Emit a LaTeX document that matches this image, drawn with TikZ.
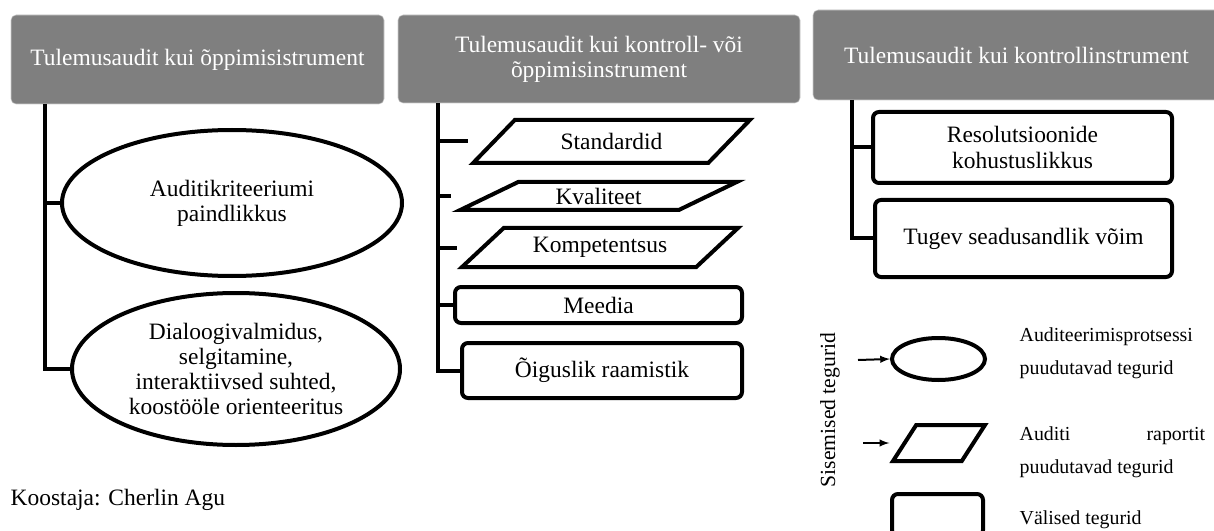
\documentclass[tikz,border=0pt]{standalone}
\usepackage{fontspec}
\setmainfont{Liberation Serif}
\usetikzlibrary{positioning,shapes.geometric}
\definecolor{headgray}{RGB}{127,127,127}
\tikzset{
  head/.style={rectangle,rounded corners=3.75pt,fill=headgray,draw=gray!40,thin,text=white,align=center,inner sep=0pt},
  oval/.style={ellipse,draw,line width=3pt,align=center,inner sep=0pt},
  slant/.style={trapezium,trapezium stretches=true,draw,line width=3pt,inner sep=0pt},
  fbox/.style={rectangle,rounded corners=4.5pt,draw,line width=3pt,align=center,inner sep=0pt},
  trunk/.style={line width=3pt},
  pointer/.style={line width=1.5pt,-latex},
  keytext/.style={anchor=west,align=left,font=\fontsize{14.9}{24.8}\selectfont}
}
\begin{document}
\begin{tikzpicture}[x=0.75pt,y=-0.75pt,font=\fontsize{17.6}{18.8}\selectfont]
 \clip (0,0) rectangle (1214,531);
 % headers
 \node[head,minimum width=279.75pt,minimum height=66.75pt] (headA) at (197.5,59.5) {Tulemusaudit kui õppimisistrument};
 \node[head,minimum width=301.5pt,minimum height=66pt] (headB) at (599,59) {Tulemusaudit kui kontroll- või\\õppimisinstrument};
 \node[head,minimum width=305.25pt,minimum height=67.5pt] (headC) at (1016.5,55) {Tulemusaudit kui kontrollinstrument};
 % first column
 \node[oval,minimum width=255pt,minimum height=109.5pt] (ovalA) at (232,203) {Auditikriteeriumi\\paindlikkus};
 \node[oval,minimum width=246pt,minimum height=114pt] (ovalB) at (236,369) {Dialoogivalmidus,\\selgitamine,\\interaktiivsed suhted,\\koostööle orienteeritus};
 \coordinate (topA) at (45,104);
 \draw[trunk] (topA) |- (ovalB.west);
 \draw[trunk] (topA |- ovalA.west) -- (ovalA.west);
 % second column
 \node[slant,trapezium left angle=37,trapezium right angle=143,minimum width=207.75pt,minimum height=32.25pt] (std) at (611.5,141.5) {Standardid};
 \node[slant,trapezium left angle=28,trapezium right angle=152,minimum width=207.75pt,minimum height=21pt] (kval) at (598.5,196) {Kvaliteet};
 \node[slant,trapezium left angle=35,trapezium right angle=145,minimum width=207pt,minimum height=29.25pt] (komp) at (600,247.5) {Kompetentsus};
 \node[fbox,minimum width=215.25pt,minimum height=27pt] (meedia) at (598.5,305) {Meedia};
 \node[fbox,minimum width=210pt,minimum height=41.25pt] (oig) at (602,370.5) {Õiguslik raamistik};
 \coordinate (topB) at (438,103);
 \draw[trunk] (topB) |- (oig.west);
 \foreach \n in {std,kval,komp}
   \draw[trunk] (topB |- \n.center) -- (\n.bottom left corner |- \n.center);
 \draw[trunk] (topB |- meedia.west) -- (meedia.west);
 % third column
 \node[fbox,minimum width=224.25pt,minimum height=53.25pt] (resol) at (1022.5,147.5) {Resolutsioonide\\kohustuslikkus};
 \node[fbox,minimum width=222.75pt,minimum height=57.75pt] (tugev) at (1023.5,238.5) {Tugev seadusandlik võim};
 \coordinate (topC) at (852,100);
 \draw[trunk] (topC) |- (tugev.west);
 \draw[trunk] (topC |- resol.west) -- (resol.west);
 % legend
 \node[rotate=90,font=\fontsize{16.2}{18}\selectfont] (sise) at (830,410) {Sisemised tegurid};
 \node[oval,minimum width=69.75pt,minimum height=31.5pt] (keyOval) at (938.5,359) {\phantom{x}};
 \node[slant,trapezium left angle=61,trapezium right angle=119,minimum width=69pt,minimum height=27pt] (keySlant) at (939,443) {\phantom{x}};
 \node[fbox,minimum width=68.25pt,minimum height=31.5pt] (keyBox) at (937.5,515) {\phantom{x}};
 \coordinate (arrA) at (858,360);
 \coordinate (arrB) at (863,443);
 \draw[pointer] (arrA) -- (keyOval.west);
 \draw[pointer] (arrB) -- (keySlant.bottom left corner |- keySlant.center);
 \node[keytext] (txtA) at (1015,353.5) {Auditeerimisprotsessi\\puudutavad tegurid};
 \node[keytext] (txtB) at (1015,452.5) {\hbox to 139pt{Auditi\hfill raportit}\\puudutavad tegurid};
 \node[keytext] (txtC) at (1015,520) {Välised tegurid};
 \node[anchor=west] (autor) at (6,500) {Koostaja: Cherlin Agu};
\end{tikzpicture}
\end{document}
